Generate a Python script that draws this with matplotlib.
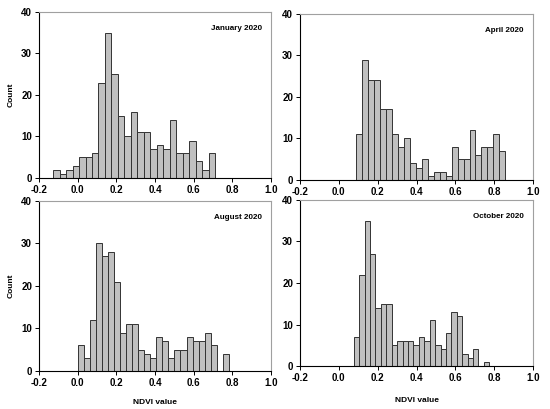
import numpy as np
import matplotlib.pyplot as plt

plt.rcParams['font.family'] = ['Liberation Sans', 'DejaVu Sans']
plt.rcParams['font.weight'] = 'bold'

# histogram counts per month (25 bins each)
jan_counts = [2, 1, 2, 3, 5, 5, 6, 23, 35, 25, 15, 10, 16, 11, 11, 7, 8, 7, 14, 6, 6, 9, 4, 2, 6]
apr_counts = [11, 29, 24, 24, 17, 17, 11, 8, 10, 4, 3, 5, 1, 2, 2, 1, 8, 5, 5, 12, 6, 8, 8, 11, 7]
aug_counts = [6, 3, 12, 30, 27, 28, 21, 9, 11, 11, 5, 4, 3, 8, 7, 3, 5, 5, 8, 7, 7, 9, 6, 0, 4]
oct_counts = [7, 22, 35, 27, 14, 15, 15, 5, 6, 6, 6, 5, 7, 6, 11, 5, 4, 8, 13, 12, 3, 2, 4, 0, 1]

# first and last bin edge (NDVI) for each month
jan_range = (-0.127, 0.711)
apr_range = (0.090, 0.857)
aug_range = (0.000, 0.782)
oct_range = (0.077, 0.775)

titles = ["January 2020", "April 2020", "August 2020", "October 2020"]
xticks = [-0.2, 0.0, 0.2, 0.4, 0.6, 0.8, 1.0]
yticks = [0, 10, 20, 30, 40]

panels = [
    (jan_counts, jan_range, [0.0709, 0.5648, 0.4218, 0.406], True, False),
    (apr_counts, apr_range, [0.5455, 0.5599, 0.4236, 0.406], False, False),
    (aug_counts, aug_range, [0.0709, 0.0929, 0.4218, 0.416], True, True),
    (oct_counts, oct_range, [0.5455, 0.1051, 0.4236, 0.406], False, True),
]

fig = plt.figure(figsize=(5.5, 4.09), dpi=100)

for (counts, rng, rect, ylab, xlab), title in zip(panels, titles):
    ax = fig.add_axes(rect)
    edges = np.linspace(rng[0], rng[1], len(counts) + 1)
    ax.bar(edges[:-1], counts, width=np.diff(edges), align='edge',
           color='#c0c0c0', edgecolor='#333333', linewidth=0.7)
    ax.set_xlim(-0.2, 1.0)
    ax.set_ylim(0, 40)
    ax.set_xticks(xticks)
    ax.set_xticklabels([f"{t:.1f}" for t in xticks])
    ax.set_yticks(yticks)
    ax.tick_params(labelsize=7, length=3, width=0.7, direction='out', pad=2)
    for s in ['top', 'right']:
        ax.spines[s].set_color('#a0a0a0')
        ax.spines[s].set_linewidth(0.8)
    for s in ['left', 'bottom']:
        ax.spines[s].set_color('black')
        ax.spines[s].set_linewidth(0.8)
    ax.text(0.96, 0.9, title, transform=ax.transAxes, ha='right', va='center',
            fontsize=5.8, fontweight='bold')
    if ylab:
        ax.set_ylabel("Count", fontsize=6, fontweight='bold', labelpad=5)
    if xlab:
        ax.set_xlabel("NDVI value", fontsize=6, fontweight='bold',
                      labelpad=8 if rect[1] < 0.1 else 10)

fig.savefig("out.png", dpi=100)
